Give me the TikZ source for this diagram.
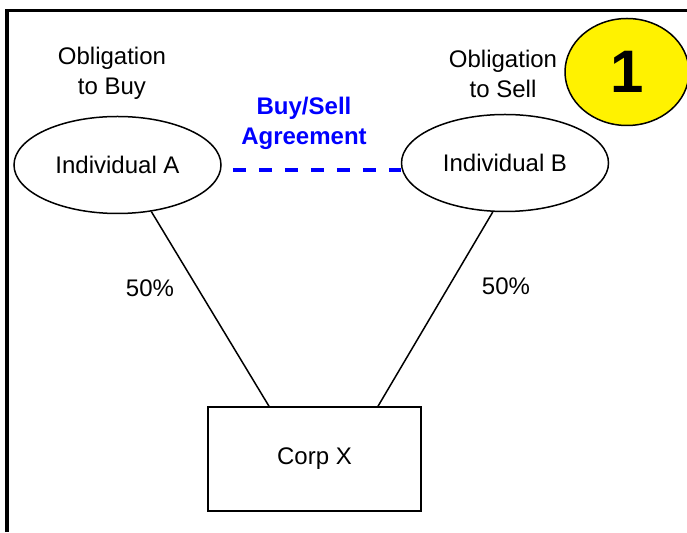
\documentclass[tikz,border=0pt]{standalone}
\usepackage{fontspec}
\setmainfont{Liberation Sans}
\usetikzlibrary{shapes.geometric}

\begin{document}
\begin{tikzpicture}[x=1pt, y=1pt,
  txt/.style={font=\fontsize{24}{30}\selectfont, align=center, inner sep=0pt},
  person/.style={txt, ellipse, draw, line width=1.5pt, inner sep=0pt,
    minimum width=207pt, minimum height=97pt},
  corp/.style={txt, rectangle, draw, line width=1.5pt,
    minimum width=213pt, minimum height=104pt},
  badge/.style={ellipse, draw, fill=yellow, line width=1.5pt, inner sep=0pt,
    minimum width=124pt, minimum height=107pt,
    font=\fontsize{60}{60}\selectfont\bfseries},
  agree/.style={blue, line width=3.5pt, dash pattern=on 13pt off 13pt},
  own/.style={line width=1.5pt}]
\useasboundingbox (0,0) rectangle (687,532);
\fill[white] (0,0) rectangle (687,532);
\draw[line width=3.5pt] (7,0) -- (7,521.5) -- (687,521.5);

\node[person] (indA) at (117.5,367) {Individual A};
\node[person] (indB) at (505,369) {Individual B};
\node[corp] (corpX) at (314.5,73) {Corp X};
\node[badge] (num) at (627,460) {1};

\node[txt] (obA) at (112,458.5) {Obligation\\to Buy};
\node[txt] (obB) at (503,458.5) {Obligation\\to Sell};
\node[txt, blue, font=\fontsize{24}{30}\selectfont\bfseries] (bsa) at (304,408.3) {Buy/Sell\\Agreement};
\node[txt] (pctA) at (150,244) {50\%};
\node[txt] (pctB) at (506,246) {50\%};

  \draw[agree] ([xshift=11pt,yshift=-5pt]indA.east) -- ([yshift=-7pt]indB.west);
  \draw[own] (indA.-54) -- ([xshift=-45.5pt]corpX.north);
  \draw[own] (indB.-104.6) -- ([xshift=63.5pt]corpX.north);
\end{tikzpicture}
\end{document}
